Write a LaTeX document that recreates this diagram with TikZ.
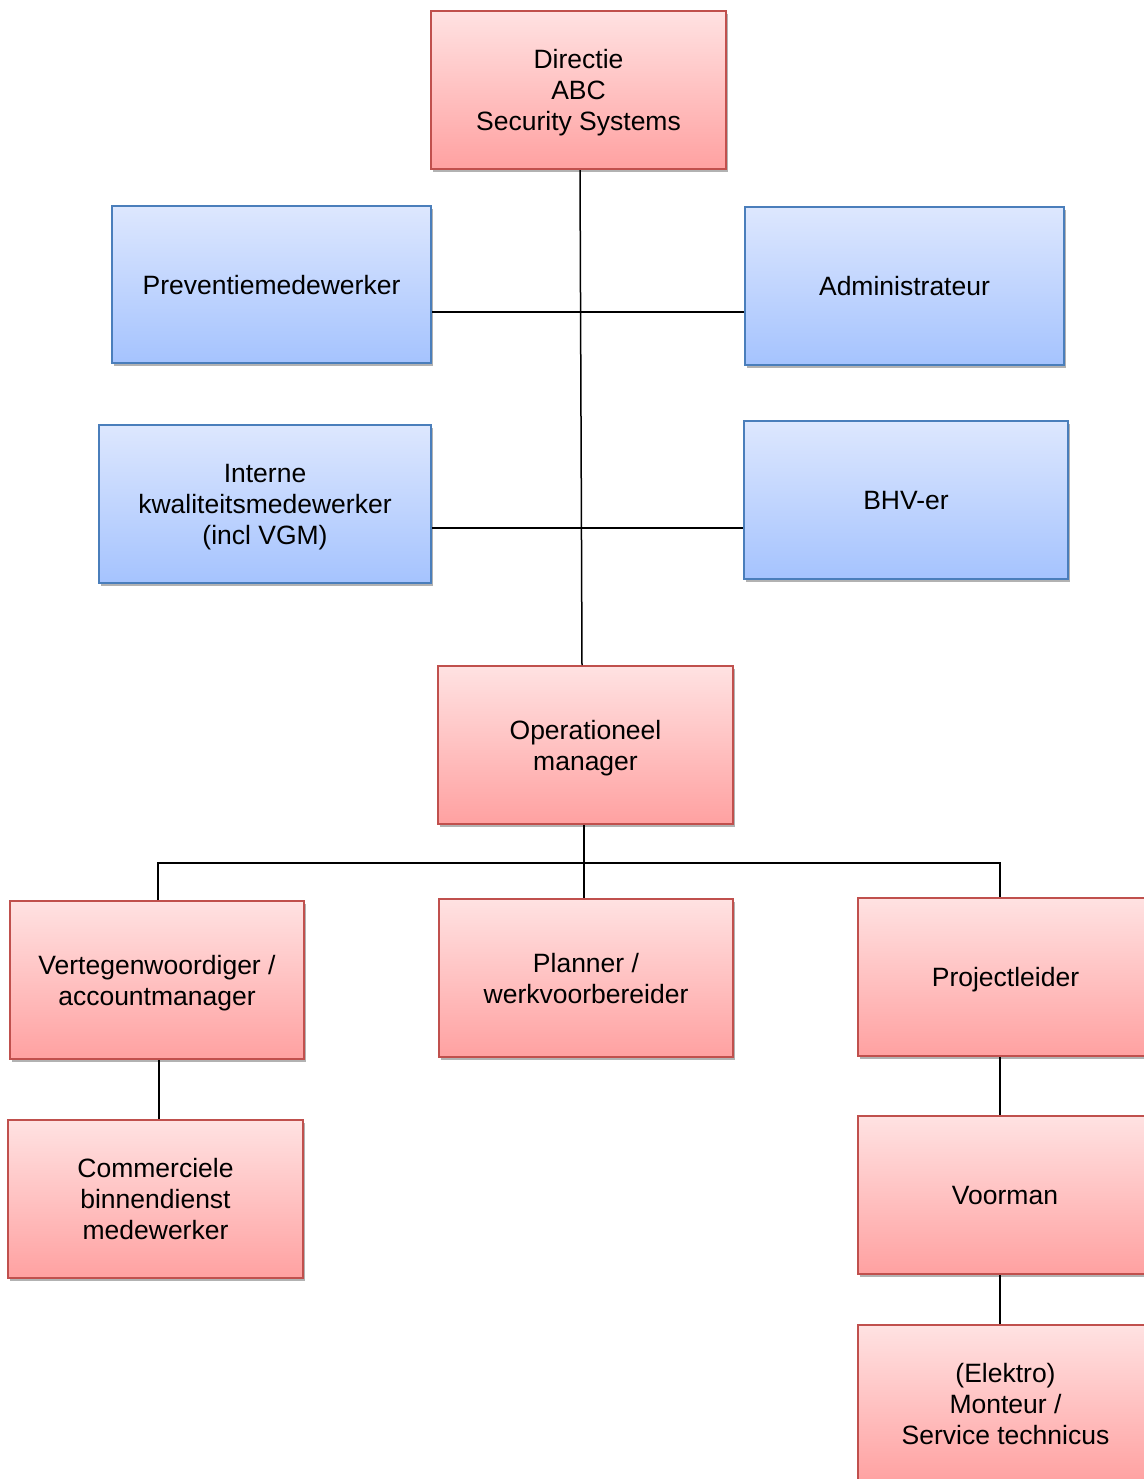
\documentclass[tikz,border=0pt]{standalone}
\usepackage{fontspec}
\setmainfont{Liberation Sans}
\usetikzlibrary{shadows}
\definecolor{redtop}{HTML}{FFE2E2}
\definecolor{redbot}{HTML}{FFA1A1}
\definecolor{redline}{HTML}{C0504D}
\definecolor{bluetop}{HTML}{DDE7FE}
\definecolor{bluebot}{HTML}{A5C3FE}
\definecolor{blueline}{HTML}{4A7EBB}
\newcommand\boxtext[1]{\begin{tabular}[t]{@{}c@{}}#1\end{tabular}}
\tikzset{
  base/.style={rectangle, inner sep=0pt, line width=1pt,
    font=\fontsize{13.25pt}{15.5pt}\selectfont,
    drop shadow={shadow xshift=1pt,shadow yshift=-1.3pt,opacity=0.3,fill=black}},
  redbox/.style={base, draw=redline, top color=redtop, bottom color=redbot},
  bluebox/.style={base, draw=blueline, top color=bluetop, bottom color=bluebot},
  oneline/.style={text height=9.5pt, text depth=0pt},
  twolines/.style={text height=9.5pt, text depth=15.5pt},
  threelines/.style={text height=9.5pt, text depth=31pt},
  conn/.style={draw=black, line width=0.75pt}
}
\begin{document}
\begin{tikzpicture}[x=0.5pt,y=-0.5pt]
\useasboundingbox (0,0) rectangle (1144,1479);
\fill[white] (0,0) rectangle (1144,1479);
\node[redbox, threelines, minimum width=147.5pt, minimum height=79pt] (dir) at (578.5,90) {\boxtext{Directie\\ABC\\Security Systems}};
\node[bluebox, oneline, minimum width=159.5pt, minimum height=78.5pt] (prev) at (271.5,284.5) {\boxtext{Preventiemedewerker}};
\node[bluebox, oneline, minimum width=159.5pt, minimum height=79pt] (adm) at (904.5,286) {\boxtext{Administrateur}};
\node[bluebox, threelines, minimum width=166pt, minimum height=79pt] (int) at (265,504) {\boxtext{Interne\\kwaliteitsmedewerker\\(incl VGM)}};
\node[bluebox, oneline, minimum width=162pt, minimum height=79pt] (bhv) at (906,500) {\boxtext{BHV-er}};
\node[redbox, twolines, minimum width=147.5pt, minimum height=79pt] (opm) at (585.5,745) {\boxtext{Operationeel\\manager}};
\node[redbox, twolines, minimum width=147pt, minimum height=79pt] (ver) at (157,980) {\boxtext{Vertegenwoordiger /\\accountmanager}};
\node[redbox, twolines, minimum width=147pt, minimum height=79pt] (pln) at (586,978) {\boxtext{Planner /\\werkvoorbereider}};
\node[redbox, oneline, minimum width=147.5pt, minimum height=79pt] (proj) at (1005.5,977) {\boxtext{Projectleider}};
\node[redbox, threelines, minimum width=147.5pt, minimum height=79pt] (com) at (155.5,1199) {\boxtext{Commerciele\\binnendienst\\medewerker}};
\node[redbox, oneline, minimum width=147.5pt, minimum height=79pt] (voor) at (1005,1195) {\boxtext{Voorman}};
\node[redbox, threelines, minimum width=147.5pt, minimum height=79pt] (elek) at (1005.5,1404) {\boxtext{(Elektro)\\Monteur /\\Service technicus}};
% junctions
\coordinate (j1) at (581,312);
\coordinate (j2) at (581,528);
\coordinate (bl) at (158,863);
\coordinate (bm) at (584,863);
\coordinate (br) at (1000,863);
\coordinate (cl) at (159,1090);
\coordinate (cr) at (1000,1090);
% connectors
\draw[conn] ([xshift=0.75pt]dir.south) -- ([xshift=-1.75pt]opm.north);
\draw[conn] (prev.east |- j1) -- (adm.west |- j1);
\draw[conn] (int.east |- j2) -- (bhv.west |- j2);
\draw[conn] ([xshift=-0.75pt]opm.south) -- (pln.north -| bm);
\draw[conn] (ver.north -| bl) -- (bl) -- (br) -- (proj.north -| br);
\draw[conn] (ver.south -| cl) -- (com.north -| cl);
\draw[conn] (proj.south -| cr) -- (voor.north -| cr);
\draw[conn] (voor.south -| cr) -- (elek.north -| cr);
\end{tikzpicture}
\end{document}
